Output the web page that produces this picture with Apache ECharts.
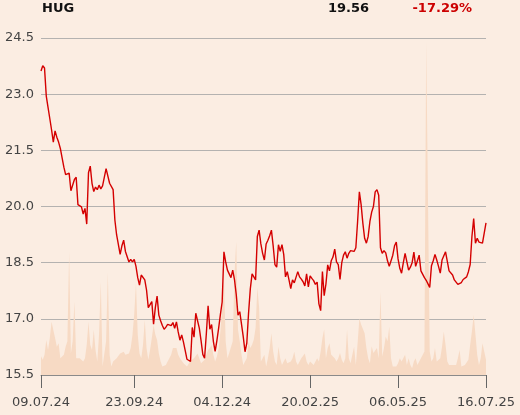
<!DOCTYPE html>
<html>
<head>
<meta charset="utf-8">
<script src="https://cdn.jsdelivr.net/npm/echarts@6/dist/echarts.min.js"></script>
<style>
    html, body { margin: 0; padding: 0; background: #fbede2; }
    #chart { width: 520px; height: 415px; }
</style>
</head>
<body>
<div id="chart"></div>
<script>
// HUG share price, one point per trading day
var price = [
    23.62, 23.76, 23.70, 22.95, 22.65, 22.35, 22.05, 21.72, 22.02, 21.85,
    21.72, 21.55, 21.30, 21.05, 20.85, 20.82, 20.89, 20.42, 20.44, 20.72,
    20.78, 20.05, 20.02, 19.99, 19.80, 19.95, 19.53, 20.90, 21.08, 20.62,
    20.40, 20.52, 20.45, 20.57, 20.47, 20.55, 20.52, 21.01, 21.01, 20.62,
    20.64, 20.45, 19.64, 19.24, 19.28, 18.72, 18.95, 19.10, 18.80, 18.75,
    18.52, 18.59, 18.52, 18.59, 18.40, 18.10, 17.90, 18.17, 18.19, 18.04,
    17.77, 17.30, 17.32, 17.46, 16.86, 17.30, 17.61, 17.10, 16.95, 16.82,
    16.72, 16.78, 16.85, 16.80, 16.82, 16.90, 16.75, 16.92, 16.65, 16.43,
    16.57, 16.38, 16.15, 15.92, 15.87, 15.86, 16.77, 16.51, 17.15, 17.12,
    16.75, 16.42, 16.05, 15.95, 16.60, 17.35, 16.72, 16.85, 16.40, 16.13,
    16.42, 16.75, 17.12, 17.45, 18.79, 18.52, 18.30, 18.35, 18.10, 18.30,
    18.05, 17.65, 17.10, 17.19, 17.20, 16.52, 16.12, 16.35, 17.15, 17.80,
    18.20, 18.15, 18.04, 19.20, 19.37, 19.00, 18.75, 18.57, 19.00, 19.10,
    19.22, 19.37, 18.95, 18.45, 18.38, 18.98, 18.80, 18.98, 18.72, 18.12,
    18.26, 18.04, 17.81, 18.04, 17.96, 18.00, 18.26, 18.12, 18.06, 17.99,
    17.88, 18.20, 17.85, 18.15, 18.08, 18.02, 17.92, 17.98, 17.40, 17.22,
    18.26, 17.62, 17.93, 18.44, 18.28, 18.55, 18.65, 18.86, 18.52, 18.45,
    18.05, 18.50, 18.70, 18.79, 18.62, 18.75, 18.82, 18.80, 18.80, 18.90,
    19.60, 20.39, 20.05, 19.55, 19.15, 19.02, 19.20, 19.60, 19.85, 20.00,
    20.39, 20.45, 20.30, 18.90, 18.75, 18.82, 18.76, 18.55, 18.40, 18.45,
    18.70, 18.95, 19.05, 18.60, 18.35, 18.22, 18.50, 18.75, 18.80, 18.30,
    18.38, 18.50, 18.78, 18.40, 18.35, 18.70, 18.28, 18.25, 18.10, 18.03,
    18.00, 17.84, 18.42, 18.55, 18.72, 18.57, 18.40, 18.22, 18.57, 18.62,
    18.79, 18.80, 18.28, 18.23, 18.17, 18.04, 17.98, 17.92, 17.90, 17.97,
    18.05, 18.08, 18.12, 18.26, 18.45, 19.20, 19.68, 19.02, 19.15, 19.05,
    19.02, 19.02, 19.06, 19.56
];

// traded volume, relative (100 = top of the plot)
var volume = [
    5.6, 4.5, 6, 10.4, 7.4, 11, 15.8, 15.5, 11, 8.4,
    9.4, 5.0, 5.4, 6, 8.4, 10, 36.6, 6.4, 10, 21.8,
    5, 5, 5, 4.5, 4, 5, 9, 15.8, 9, 7.4,
    13.4, 7.4, 4, 12, 27.7, 2.5, 2, 10, 30.4, 6,
    2.5, 4, 4.5, 5, 5.5, 6.4, 6.5, 6.9, 6, 5.5,
    6.4, 8, 11.9, 18, 27.2, 12, 6.4, 5, 9, 16.3,
    8, 4.5, 7.4, 11, 14.8, 12, 10.4, 6.4, 4, 2.5,
    2.5, 3, 4, 4.5, 6, 8, 8.4, 8, 6, 5,
    4.5, 3.5, 3, 2.5, 2.5, 4.2, 4, 5, 5.5, 6.4,
    6, 3.5, 4, 4.5, 6, 7.4, 8, 8.9, 6, 4,
    5.5, 7.9, 13, 20, 28.7, 10, 5, 6.5, 6, 10,
    30, 39.6, 13.4, 10, 6, 3, 4, 5, 9.9, 8,
    9, 10.5, 14, 26, 20, 4, 5, 6, 2.5, 5,
    8, 12.4, 7, 4, 3, 8.4, 5, 3, 4, 5,
    3.5, 3, 4, 5, 6.9, 4, 3, 4, 5, 5.5,
    6.4, 4, 3, 4, 4, 3, 2.5, 5, 4, 7,
    11, 13.6, 5, 8, 9.4, 6, 6, 5, 4, 5,
    6.5, 4.5, 3.5, 5, 13.4, 5, 3.5, 6, 8.4, 3,
    9.4, 16.8, 15, 14.8, 12.4, 8, 5, 3.5, 8.5, 6.5,
    6, 8, 5, 24.7, 5.5, 8, 11.4, 10, 14.3, 5,
    2.5, 3, 2.5, 3.5, 5, 4, 4.5, 6, 3, 5,
    3, 2, 4, 5, 3, 2.5, 5, 5, 7, 99,
    99, 7, 4, 5, 8, 4, 4, 5, 8.4, 12.9,
    9, 4, 3, 2.5, 3, 3, 3, 5, 7.4, 2.5,
    2.5, 3, 3, 4.5, 9, 13, 17.8, 12, 6, 3,
    5, 9.4, 7, 4.5
];

// dated ticks on the x axis (index into the series)
var tickIdx = [0, 53, 103, 153, 203, 253];
var tickLabels = ["09.07.24", "23.09.24", "04.12.24", "20.02.25", "06.05.25", "16.07.25"];

var lastPrice = "19.56";
var change = "-17.29%";

var days = [];
for (var i = 0; i < price.length; i++) days.push(String(i));

var font = "DejaVu Sans";
var myChart = echarts.init(document.getElementById("chart"));

var option = {
    backgroundColor: "#fbede2",
    animation: false,
    title: [
        { text: "HUG", left: 42, top: 2, padding: 0, textStyle: { fontFamily: font, fontSize: 13, fontWeight: "bold", color: "#111" } },
        { text: lastPrice, right: 151, top: 2, padding: 0, textStyle: { fontFamily: font, fontSize: 13, fontWeight: "bold", color: "#111" } },
        { text: change, right: 48, top: 2, padding: 0, textStyle: { fontFamily: font, fontSize: 13, fontWeight: "bold", color: "#cc0000" } }
    ],
    grid: { left: 41, right: 34, top: 38, bottom: 40 },
    xAxis: {
        type: "category",
        data: days,
        boundaryGap: false,
        axisLine: { lineStyle: { color: "#8a8a8a", width: 1 } },
        axisTick: {
            length: 13,
            interval: function (i) { return tickIdx.indexOf(i) >= 0; },
            lineStyle: { color: "#666" }
        },
        axisLabel: {
            interval: function (i) { return tickIdx.indexOf(i) >= 0; },
            formatter: function (v, i) { return tickLabels[tickIdx.indexOf(i)]; },
            margin: 21,
            fontFamily: font,
            fontSize: 13,
            color: "#444"
        },
        splitLine: { show: false }
    },
    yAxis: [
        {
            type: "value",
            min: 15.5,
            max: 24.5,
            interval: 1.5,
            axisLine: { show: false },
            axisTick: { show: false },
            axisLabel: {
                margin: 7,
                fontFamily: font,
                fontSize: 13,
                color: "#444",
                formatter: function (v) { return v.toFixed(1); }
            },
            splitLine: { lineStyle: { color: "#b4b2b0", width: 1 } }
        },
        {
            type: "value",
            min: 0,
            max: 100,
            show: false,
            splitLine: { show: false }
        }
    ],
    series: [
        {
            name: "volume",
            type: "line",
            yAxisIndex: 1,
            data: volume,
            symbol: "none",
            lineStyle: { width: 0 },
            areaStyle: { color: "#f7dac4", opacity: 1 },
            z: 1
        },
        {
            name: "price",
            type: "line",
            data: price,
            symbol: "none",
            lineStyle: { color: "#d40000", width: 1.4 },
            z: 3
        }
    ]
};
myChart.setOption(option);
</script>
</body>
</html>
